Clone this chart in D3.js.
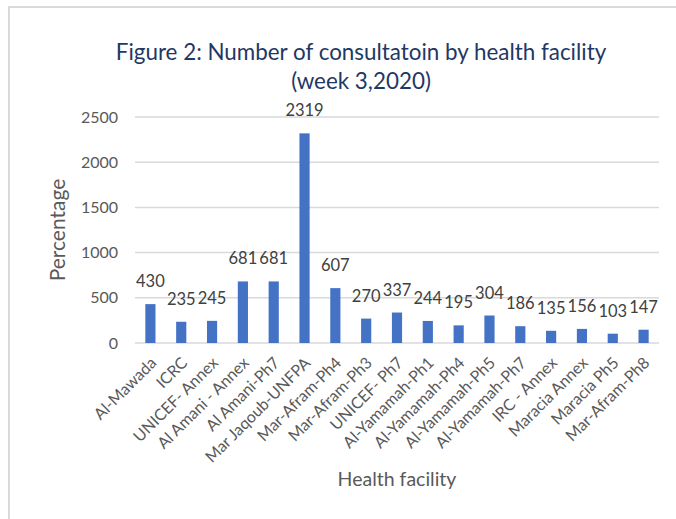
<!DOCTYPE html>
<html>
<head>
<meta charset="utf-8">
<script src="https://d3js.org/d3.v7.min.js"></script>
<style>
  body { margin: 0px; background: #fff; }
  text { font-family: Lato, "Open Sans", sans-serif; }
  .grid line { stroke: #d9d9d9; stroke-width: 1.5px; }
  .tick-y { font-size: 16px; fill: #595959; text-anchor: end; }
  .tick-x { font-size: 16px; fill: #595959; text-anchor: end; }
  .dlabel { font-size: 16.5px; fill: #404040; text-anchor: middle; }
  .title { font-size: 22.4px; fill: #1f3864; text-anchor: middle; }
  .axis-title { font-size: 19.5px; fill: #595959; text-anchor: middle; }
</style>
</head>
<body>
<svg id="chart" width="676" height="519"></svg>
<script>
// data
var facilities = ["Al-Mawada", "ICRC", "UNICEF- Annex", "Al Amani - Annex", "Al Amani-Ph7",
  "Mar Jaqoub-UNFPA", "Mar-Afram-Ph4", "Mar-Afram-Ph3", "UNICEF- Ph7", "Al-Yamamah-Ph1",
  "Al-Yamamah-Ph4", "Al-Yamamah-Ph5", "Al-Yamamah-Ph7", "IRC - Annex", "Maracia Annex",
  "Maracia Ph5", "Mar-Afram-Ph8"];
var consultations = [430, 235, 245, 681, 681, 2319, 607, 270, 337, 244, 195, 304, 186, 135, 156, 103, 147];
var yTicks = [0, 500, 1000, 1500, 2000, 2500];

var svg = d3.select("#chart");

// chart frame (only left and top edges are visible in the picture)
svg.append("rect")
    .attr("x", 9).attr("y", 7)
    .attr("width", 720).attr("height", 560)
    .attr("fill", "#fff")
    .attr("stroke", "#d9d9d9")
    .attr("stroke-width", 2);

var plotLeft = 135, plotRight = 659, plotTop = 117, plotBottom = 343;

var x = d3.scaleBand()
    .domain(facilities)
    .range([plotLeft, plotRight])
    .paddingInner(0.67)
    .paddingOuter(0.335);

var y = d3.scaleLinear()
    .domain([0, 2500])
    .range([plotBottom, plotTop]);

// gridlines
var grid = svg.append("g").attr("class", "grid");
grid.selectAll("line")
  .data(yTicks)
  .enter().append("line")
    .attr("x1", plotLeft).attr("x2", plotRight)
    .attr("y1", function(d) { return y(d); })
    .attr("y2", function(d) { return y(d); });

// y tick labels
svg.selectAll(".tick-y")
  .data(yTicks)
  .enter().append("text")
    .attr("class", "tick-y")
    .attr("x", 118)
    .attr("y", function(d) { return y(d); })
    .attr("dy", "0.35em")
    .text(function(d) { return d; });

// bars
svg.selectAll(".bar")
  .data(consultations)
  .enter().append("rect")
    .attr("class", "bar")
    .attr("x", function(d, i) { return x(facilities[i]); })
    .attr("width", x.bandwidth())
    .attr("y", function(d) { return y(d); })
    .attr("height", function(d) { return y(0) - y(d); })
    .attr("fill", "#4472c4");

// value labels
svg.selectAll(".dlabel")
  .data(consultations)
  .enter().append("text")
    .attr("class", "dlabel")
    .attr("x", function(d, i) { return x(facilities[i]) + x.bandwidth() / 2; })
    .attr("y", function(d) { return y(d) - 17; })
    .text(function(d) { return d; });

// x tick labels, rotated
svg.selectAll(".tick-x")
  .data(facilities)
  .enter().append("text")
    .attr("class", "tick-x")
    .attr("transform", function(d) {
      return "translate(" + (x(d) + x.bandwidth() / 2 + 3) + "," + 360 + ") rotate(-45)";
    })
    .attr("dy", "0.35em")
    .text(function(d) { return d; });

// title
svg.append("text")
    .attr("class", "title")
    .attr("x", 361).attr("y", 60)
    .text("Figure 2: Number of consultatoin by health facility");
svg.append("text")
    .attr("class", "title")
    .attr("x", 361).attr("y", 89)
    .text("(week 3,2020)");

// axis titles
svg.append("text")
    .attr("class", "axis-title")
    .attr("x", 397).attr("y", 486)
    .text("Health facility");

svg.append("text")
    .attr("class", "axis-title")
    .style("font-size", "21px")
    .attr("transform", "translate(65,230) rotate(-90)")
    .text("Percentage");
</script>
</body>
</html>
